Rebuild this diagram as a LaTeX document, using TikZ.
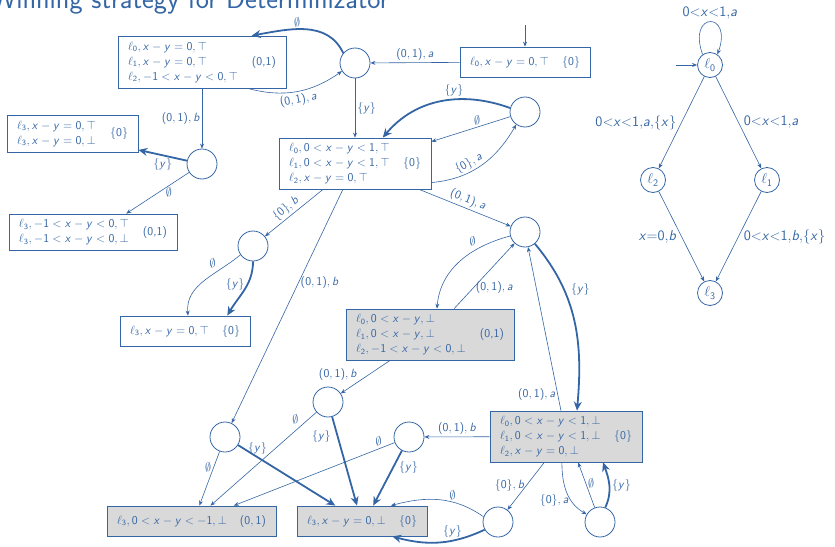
\documentclass[tikz,border=0pt]{standalone}
\usetikzlibrary{arrows.meta}
\renewcommand{\familydefault}{\sfdefault}
% sans-serif digits and letters in formulas
\DeclareSymbolFont{operators}{OT1}{cmss}{m}{n}
\DeclareSymbolFont{sfletters}{OT1}{cmss}{m}{sl}
\DeclareMathSymbol{a}{\mathalpha}{sfletters}{`a}
\DeclareMathSymbol{b}{\mathalpha}{sfletters}{`b}
\DeclareMathSymbol{x}{\mathalpha}{sfletters}{`x}
\DeclareMathSymbol{y}{\mathalpha}{sfletters}{`y}
\definecolor{cblue}{RGB}{52,101,164}
\definecolor{cgray}{RGB}{217,217,217}
\newcommand{\stacklines}[1]{\begin{tabular}{@{}l@{}}#1\end{tabular}}
\newcommand{\boxrow}[3]{\makebox[#1]{#2\hfill#3}}
\begin{document}
\begin{tikzpicture}[x=1pt,y=1pt,
  box/.style={draw=cblue, line width=0.8pt, inner xsep=10pt, inner ysep=0pt,
    text=cblue, font=\fontsize{12}{15}\selectfont},
  gbox/.style={box, fill=cgray},
  st/.style={circle, draw=cblue, line width=0.8pt, minimum size=30pt, inner sep=0pt},
  loc/.style={circle, draw=cblue, line width=0.8pt, minimum size=25pt, inner sep=0pt,
    text=cblue, font=\fontsize{14}{16}\selectfont},
  tr/.style={draw=cblue, line width=0.6pt, -{Stealth[length=5pt,width=4pt]}},
  win/.style={draw=cblue, line width=1.8pt, -{Stealth[length=9pt,width=8pt]}},
  lab/.style={text=cblue, inner sep=2pt, font=\fontsize{11.7}{14}\selectfont},
  guard/.style={text=cblue, inner sep=2pt, font=\fontsize{15}{17}\selectfont},
  headline/.style={text=cblue, inner sep=0pt, font=\fontsize{28}{32}\selectfont}]
\useasboundingbox (0,-546) rectangle (835,0);

\node[headline, anchor=base east] (title) at (389,-9) {Winning strategy for Determinizator};

% ---------- game graph: configurations ----------
\node[box, minimum height=30pt] (B0) at (525,-62)
  {\boxrow{110pt}{$\ell_0, x-y=0,\top$}{$\{0\}$}};
\node[box, minimum height=52pt] (B1) at (202,-62)
  {\boxrow{148pt}{\stacklines{$\ell_0, x-y=0,\top$\\ $\ell_1, x-y=0,\top$\\ $\ell_2, -1<x-y<0,\top$}}{(0,1)}};
\node[box, minimum height=51pt] (B2) at (355,-163.5)
  {\boxrow{132pt}{\stacklines{$\ell_0, 0<x-y<1,\top$\\ $\ell_1, 0<x-y<1,\top$\\ $\ell_2, x-y=0,\top$}}{$\{0\}$}};
\node[box, minimum height=37pt] (BL1) at (72.5,-133.5)
  {\boxrow{111pt}{\stacklines{$\ell_3, x-y=0,\top$\\ $\ell_3, x-y=0,\bot$}}{$\{0\}$}};
\node[box, minimum height=36pt] (BL2) at (93,-232)
  {\boxrow{148pt}{\stacklines{$\ell_3, -1<x-y<0,\top$\\ $\ell_3, -1<x-y<0,\bot$}}{(0,1)}};
\node[box, minimum height=30pt] (BL3) at (185,-331)
  {\boxrow{110pt}{$\ell_3, x-y=0,\top$}{$\{0\}$}};
\node[gbox, minimum height=51pt] (BG1) at (430,-334.5)
  {\boxrow{148pt}{\stacklines{$\ell_0, 0<x-y,\bot$\\ $\ell_1, 0<x-y,\bot$\\ $\ell_2, -1<x-y<0,\bot$}}{(0,1)}};
\node[gbox, minimum height=51pt] (BG2) at (566,-436.5)
  {\boxrow{132pt}{\stacklines{$\ell_0, 0<x-y<1,\bot$\\ $\ell_1, 0<x-y<1,\bot$\\ $\ell_2, x-y=0,\bot$}}{$\{0\}$}};
\node[gbox, minimum height=30pt] (BG3) at (191.5,-521)
  {\boxrow{149pt}{$\ell_3, 0<x-y<-1,\bot$}{$(0,1)$}};
\node[gbox, minimum height=30pt] (BG4) at (362,-521)
  {\boxrow{110pt}{$\ell_3, x-y=0,\bot$}{$\{0\}$}};

% ---------- game graph: intermediate states ----------
\node[st] (C1) at (355,-63) {};
\node[st] (C2) at (525,-112) {};
\node[st] (C3) at (202,-164) {};
\node[st] (C4) at (253,-246) {};
\node[st] (C5) at (525,-232) {};
\node[st] (C6) at (328,-402) {};
\node[st] (C7) at (225,-437) {};
\node[st] (C8) at (409,-437) {};
\node[st] (C9) at (498,-522) {};
\node[st] (C10) at (600,-522) {};
\coordinate (i0) at (525,-25);

% ---------- game graph: moves ----------
\draw[tr] (i0) -- (B0);
\draw[tr] (B0) -- node[lab,above]{$(0,1),a$} (C1);
\draw[win] (C1.140) .. controls +(115:37) and +(10:37) .. (B1.28);
\node[lab] (lC1B1) at (297,-22) {$\emptyset$};
\draw[tr] (B1.-30) to[out=-15,in=215] node[lab,below,sloped,pos=0.5]{$(0,1),a$} (C1.212);
\draw[tr] (C1) -- node[lab,right]{$\{y\}$} (B2);
\draw[tr] (B1) -- node[lab,left]{$(0,1),b$} (C3);
\draw[win] (C3) -- node[lab,below]{$\{y\}$} (BL1.-14);
\draw[tr] (C3) -- node[lab,below,pos=0.32]{$\emptyset$} (BL2.29);

\draw[win] (C2.165) to[out=160,in=50] node[lab,above,pos=0.4]{$\{y\}$} (B2.43);
\draw[tr] (C2) -- node[lab,above,pos=0.42]{$\emptyset$} (B2.16);
\draw[tr] (B2.-14) to[out=5,in=240] node[lab,sloped,above,pos=0.4]{$\{0\},a$} (C2.235);
\draw[tr] (B2.-22) -- node[lab,sloped,above]{$(0,1),a$} (C5);
\draw[tr] (B2.219) -- node[lab,sloped,above,pos=0.55]{$\{0\},b$} (C4);
\draw[tr] (B2.245) -- node[lab,right,pos=0.4]{$(0,1),b$} (C7);

\draw[tr] (C4.215) to[out=220,in=95] node[lab,above left,pos=0.3]{$\emptyset$} (BL3.79);
\draw[win] (C4.-90) to[out=-90,in=60] node[lab,left,pos=0.4]{$\{y\}$} (BL3.20);

\draw[tr] (C5.195) to[out=195,in=85] node[lab,above left,pos=0.3]{$\emptyset$} (BG1.75);
\draw[tr] (BG1.47) -- node[lab,right,pos=0.32]{$(0,1),a$} (C5);
\draw[win] (C5.-50) to[out=-50,in=85] node[lab,right=4pt,pos=0.3]{$\{y\}$} (BG2.67);
\draw[tr] (BG2.101) -- node[lab,left,pos=0.1]{$(0,1),a$} (C5);

\draw[tr] (BG1.213) -- node[lab,anchor=south east,inner sep=1pt,pos=0.65]{$(0,1),b$} (C6);
\draw[tr] (BG2) -- node[lab,above]{$(0,1),b$} (C8);
\draw[tr] (BG2.230) -- node[lab,left,pos=0.48]{$\{0\},b$} (C9);
\draw[tr] (BG2.261) to[out=-90,in=150] node[lab,left,pos=0.65]{$\{0\},a$} (C10.150);
\draw[tr] (C10) -- node[lab,right,pos=0.54]{$\emptyset$} (BG2.-65);
\draw[win] (C10.70) to[out=65,in=-70] node[lab,right]{$\{y\}$} (BG2.-35);

\draw[tr] (C9.160) to[out=145,in=15] node[lab,above,pos=0.35]{$\emptyset$} (BG4.28);
\draw[win] (C9.210) to[out=205,in=-15] node[lab,above,pos=0.35]{$\{y\}$} (BG4.-27);

\draw[tr] (C6) -- node[lab,above left,pos=0.15]{$\emptyset$} (BG3.39);
\draw[win] (C6) -- node[lab,left=4pt,pos=0.22]{$\{y\}$} (BG4.108);
\draw[tr] (C7) -- node[lab,left,pos=0.3]{$\emptyset$} (BG3.63);
\draw[win] (C7) -- node[lab,above,pos=0.2]{$\{y\}$} (BG4.150);
\draw[tr] (C8) -- node[lab,above,pos=0.1]{$\emptyset$} (BG3.20);
\draw[win] (C8) -- node[lab,right=3pt,pos=0.3]{$\{y\}$} (BG4.54);

% ---------- timed automaton ----------
\node[loc] (L0) at (710,-65) {$\ell_0$};
\node[loc] (L2) at (653,-180) {$\ell_2$};
\node[loc] (L1) at (767,-180) {$\ell_1$};
\node[loc] (L3) at (710,-293) {$\ell_3$};
\coordinate (L0in) at (676,-65);
\draw[tr] (L0in) -- (L0);
\draw[tr] (L0.125) to[out=110,in=70,looseness=8] node[guard,above]{$0{<}x{<}1{,}a$} (L0.55);
\draw[tr] (L0) -- node[guard,left=3pt]{$0{<}x{<}1{,}a{,}\{x\}$} (L2);
\draw[tr] (L0) -- node[guard,right=3pt]{$0{<}x{<}1{,}a$} (L1);
\draw[tr] (L2) -- node[guard,left=3pt]{$x{=}0{,}b$} (L3);
\draw[tr] (L1) -- node[guard,right=3pt]{$0{<}x{<}1{,}b{,}\{x\}$} (L3);
\end{tikzpicture}
\end{document}
